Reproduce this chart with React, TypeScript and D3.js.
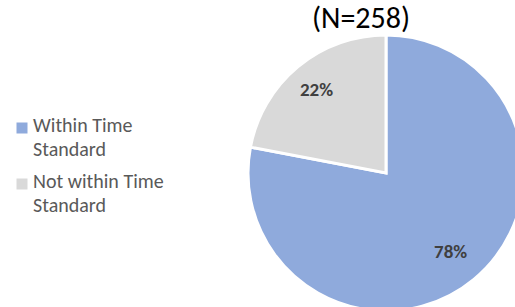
import React from "react";
import * as d3 from "d3";

const categories = ["Within Time Standard", "Not within Time Standard"];
const legendLines = [["Within Time", "Standard"], ["Not within Time", "Standard"]];
const values = [78, 22];
const labels = ["78%", "22%"];
const colors = ["#8FAADC", "#D9D9D9"];
const title = "(N=258)";

const W = 515;
const H = 307;

export default function App() {
  const cx = 386;
  const cy = 173;
  const r = 138;
  const labelFactors = [0.735, 0.79];
  const pie = d3.pie<number>().sort(null).value((d) => d)(values);
  const arc = d3.arc<d3.PieArcDatum<number>>().innerRadius(0).outerRadius(r);
  const font = "Carlito, Lato, 'Open Sans', sans-serif";
  return (
    <svg
      width={W}
      height={H}
      style={{ position: "absolute", left: 0, top: 0, overflow: "hidden", background: "#fff" }}
    >
      <rect width={W} height={H} fill="#fff" />
      <g transform={`translate(${cx},${cy})`}>
        {pie.map((d, i) => (
          <path key={categories[i]} d={arc(d) || ""} fill={colors[i]} stroke="#fff" strokeWidth={3} />
        ))}
        {pie.map((d, i) => {
          const lr = r * labelFactors[i];
          const [x, y] = d3.arc<d3.PieArcDatum<number>>().innerRadius(lr).outerRadius(lr).centroid(d);
          return (
            <text
              key={"l" + i}
              x={x}
              y={y}
              textAnchor="middle"
              dominantBaseline="central"
              fontFamily={font}
              fontWeight="bold"
              fontSize={19}
              fill="#404040"
            >
              {labels[i]}
            </text>
          );
        })}
      </g>
      <text x={361} y={28} textAnchor="middle" fontFamily={font} fontSize={30} fill="#000">
        {title}
      </text>
      {categories.map((c, i) => (
        <g key={c} transform={`translate(16.5,${122.5 + i * 56})`}>
          <rect x={0} y={0} width={11} height={11} fill={colors[i]} />
          {legendLines[i].map((line, j) => (
            <text
              key={j}
              x={16.5}
              y={9 + j * 24}
              fontFamily={font}
              fontSize={20}
              fill="#595959"
            >
              {line}
            </text>
          ))}
        </g>
      ))}
    </svg>
  );
}
